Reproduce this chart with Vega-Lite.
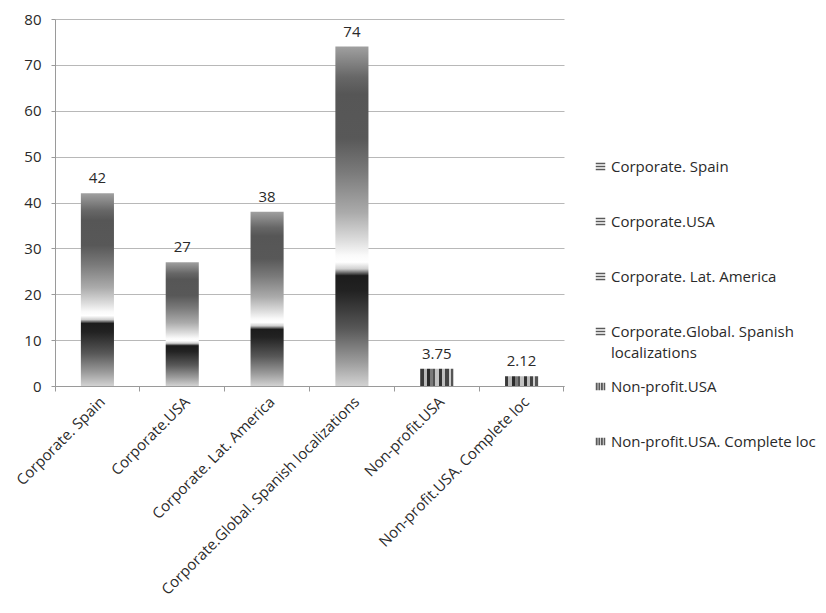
{
  "$schema": "https://vega.github.io/schema/vega-lite/v6.json",
  "width": 509,
  "height": 367,
  "autosize": {"type": "none"},
  "padding": {"left": 55, "top": 19, "right": 262, "bottom": 227},
  "background": "white",
  "config": {
    "view": {"stroke": null},
    "font": "Open Sans",
    "style": {"guide-label": {"lineHeight": 21}},
    "axis": {
      "labelFont": "Open Sans",
      "labelFontSize": 15,
      "labelColor": "#2a2a2a",
      "domainColor": "#9a9a9a",
      "tickColor": "#9a9a9a",
      "gridColor": "#b8b8b8",
      "title": null
    },
    "legend": {
      "labelFont": "Open Sans",
      "labelFontSize": 15,
      "labelColor": "#2a2a2a"
    }
  },
  "data": {
    "values": [
      {"category": "Corporate. Spain", "value": 42},
      {"category": "Corporate.USA", "value": 27},
      {"category": "Corporate. Lat. America", "value": 38},
      {"category": "Corporate.Global. Spanish localizations", "value": 74},
      {"category": "Non-profit.USA", "value": 3.75},
      {"category": "Non-profit.USA. Complete loc", "value": 2.12}
    ]
  },
  "encoding": {
    "x": {
      "field": "category",
      "type": "nominal",
      "sort": null,
      "scale": {"type": "band", "paddingInner": 0, "paddingOuter": 0},
      "axis": {
        "labelAngle": -45,
        "bandPosition": 1,
        "tickExtra": true,
        "tickSize": 5,
        "labelPadding": 3,
        "labelLimit": 400,
        "domainWidth": 1
      }
    },
    "y": {
      "field": "value",
      "type": "quantitative",
      "scale": {"domain": [0, 80], "nice": false},
      "axis": {
        "values": [0, 10, 20, 30, 40, 50, 60, 70, 80],
        "tickSize": 4,
        "labelPadding": 10,
        "grid": true,
        "gridWidth": 1
      }
    }
  },
  "layer": [
    {
      "transform": [{"filter": "indexof(datum.category, 'Corporate') === 0"}],
      "mark": {
        "type": "bar",
        "width": {"band": 0.39},
        "color": {
          "gradient": "linear",
          "x1": 0, "y1": 0, "x2": 0, "y2": 1,
          "stops": [
            {"offset": 0, "color": "#a0a0a0"},
            {"offset": 0.09, "color": "#676767"},
            {"offset": 0.14, "color": "#565656"},
            {"offset": 0.27, "color": "#585858"},
            {"offset": 0.37, "color": "#7a7a7a"},
            {"offset": 0.49, "color": "#ababab"},
            {"offset": 0.57, "color": "#dcdcdc"},
            {"offset": 0.615, "color": "#fafafa"},
            {"offset": 0.635, "color": "#ffffff"},
            {"offset": 0.655, "color": "#d0d0d0"},
            {"offset": 0.675, "color": "#1c1c1c"},
            {"offset": 0.72, "color": "#222222"},
            {"offset": 0.83, "color": "#575757"},
            {"offset": 0.93, "color": "#9c9c9c"},
            {"offset": 1, "color": "#d2d2d2"}
          ]
        }
      }
    },
    {
      "transform": [{"filter": "indexof(datum.category, 'Non-profit') === 0"}],
      "mark": {
        "type": "bar",
        "width": {"band": 0.39},
        "color": {
          "gradient": "linear",
          "x1": 0, "y1": 0, "x2": 1, "y2": 0,
          "stops": [
            {"offset": 0, "color": "#3a3a3a"},
            {"offset": 0.1, "color": "#3a3a3a"},
            {"offset": 0.1, "color": "#b8b8b8"},
            {"offset": 0.2, "color": "#b8b8b8"},
            {"offset": 0.2, "color": "#2a2a2a"},
            {"offset": 0.3, "color": "#2a2a2a"},
            {"offset": 0.3, "color": "#7a7a7a"},
            {"offset": 0.38, "color": "#7a7a7a"},
            {"offset": 0.38, "color": "#505050"},
            {"offset": 0.46, "color": "#505050"},
            {"offset": 0.46, "color": "#c2c2c2"},
            {"offset": 0.56, "color": "#c2c2c2"},
            {"offset": 0.56, "color": "#333333"},
            {"offset": 0.66, "color": "#333333"},
            {"offset": 0.66, "color": "#bdbdbd"},
            {"offset": 0.76, "color": "#bdbdbd"},
            {"offset": 0.76, "color": "#444444"},
            {"offset": 0.86, "color": "#444444"},
            {"offset": 0.86, "color": "#cccccc"},
            {"offset": 0.92, "color": "#cccccc"},
            {"offset": 0.92, "color": "#555555"},
            {"offset": 1, "color": "#555555"}
          ]
        }
      }
    },
    {
      "mark": {
        "type": "text",
        "baseline": "bottom",
        "dy": -7,
        "fontSize": 15,
        "font": "Open Sans",
        "color": "#2a2a2a"
      },
      "encoding": {
        "text": {"field": "value", "type": "nominal"}
      }
    },
    {
      "mark": {"type": "point", "filled": true, "opacity": 0, "color": "#5a5a5a"},
      "encoding": {
        "shape": {
          "field": "category",
          "type": "nominal",
          "sort": null,
          "scale": {
            "domain": [
              "Corporate. Spain",
              "Corporate.USA",
              "Corporate. Lat. America",
              "Corporate.Global. Spanish localizations",
              "Non-profit.USA",
              "Non-profit.USA. Complete loc"
            ],
            "range": [
              "M-1,-0.8H1V-0.45H-1Z M-1,-0.18H1V0.18H-1Z M-1,0.45H1V0.8H-1Z",
              "M-1,-0.8H1V-0.45H-1Z M-1,-0.18H1V0.18H-1Z M-1,0.45H1V0.8H-1Z",
              "M-1,-0.8H1V-0.45H-1Z M-1,-0.18H1V0.18H-1Z M-1,0.45H1V0.8H-1Z",
              "M-1,-0.8H1V-0.45H-1Z M-1,-0.18H1V0.18H-1Z M-1,0.45H1V0.8H-1Z",
              "M-1,-0.8H-0.6V0.8H-1Z M-0.45,-0.8H-0.05V0.8H-0.45Z M0.1,-0.8H0.5V0.8H0.1Z M0.65,-0.8H1V0.8H0.65Z",
              "M-1,-0.8H-0.6V0.8H-1Z M-0.45,-0.8H-0.05V0.8H-0.45Z M0.1,-0.8H0.5V0.8H0.1Z M0.65,-0.8H1V0.8H0.65Z"
            ]
          },
          "legend": {
            "title": null,
            "orient": "none",
            "legendX": 538,
            "legendY": 140,
            "symbolOpacity": 1,
            "symbolFillColor": "#5a5a5a",
            "symbolStrokeColor": "#5a5a5a",
            "symbolStrokeWidth": 0,
            "symbolSize": 90,
            "labelOffset": 3,
            "rowPadding": 18,
            "labelLimit": 400,
            "labelExpr": "datum.label === 'Corporate.Global. Spanish localizations' ? ['Corporate.Global. Spanish', 'localizations'] : [datum.label, ' ']"
          }
        }
      }
    }
  ]
}
